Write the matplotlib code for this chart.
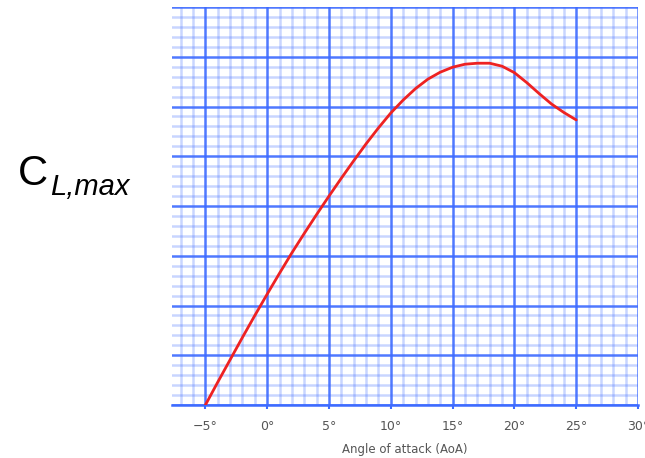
import matplotlib
matplotlib.use("Agg")
import matplotlib.pyplot as plt
from matplotlib.ticker import MultipleLocator, FuncFormatter

# angle of attack (deg) and lift coefficient
aoa = [-5, -4, -3, -2, -1, 0, 1, 2, 3, 4, 5, 6, 7, 8, 9, 10,
       11, 12, 13, 14, 15, 16, 17, 18, 19, 20, 21, 22, 23, 24, 25]
cl = [0.00, 0.46, 0.91, 1.36, 1.80, 2.23, 2.65, 3.06, 3.45, 3.83, 4.20,
      4.56, 4.91, 5.25, 5.57, 5.87, 6.13, 6.36, 6.55, 6.69, 6.79, 6.85,
      6.87, 6.87, 6.81, 6.68, 6.48, 6.26, 6.05, 5.88, 5.73]

x_range = (-7.7, 30)
y_range = (0, 8)

GRID_BLUE = "#3d6bff"

fig = plt.figure(figsize=(6.45, 4.58), dpi=100)
ax = fig.add_axes([0.2667, 0.1157, 0.7225, 0.869])

ax.set_xlim(*x_range)
ax.set_ylim(*y_range)
ax.xaxis.set_major_locator(MultipleLocator(5))
ax.xaxis.set_minor_locator(MultipleLocator(1))
ax.yaxis.set_major_locator(MultipleLocator(1))
ax.yaxis.set_minor_locator(MultipleLocator(0.2))
ax.xaxis.set_major_formatter(FuncFormatter(lambda v, _: f"{int(round(v))}°".replace("-", "\u2212")))

ax.grid(which="major", color=GRID_BLUE, linewidth=1.8, alpha=0.9)
ax.grid(which="minor", color=GRID_BLUE, linewidth=1.8, alpha=0.28)
ax.set_axisbelow(True)

for side in ["left", "top", "right"]:
    ax.spines[side].set_visible(False)
ax.spines["bottom"].set_color(GRID_BLUE)
ax.spines["bottom"].set_linewidth(1.8)

ax.tick_params(axis="x", which="major", color=GRID_BLUE, length=3, width=1.5,
               labelsize=9, labelcolor="#555555", pad=8)
ax.tick_params(axis="x", which="minor", length=0)
ax.tick_params(axis="y", which="both", length=0, labelleft=False)

ax.plot(aoa, cl, color="#ee2222", linewidth=2, solid_capstyle="round", zorder=3)

ax.set_xlabel("Angle of attack (AoA)", fontsize=8.5, color="#555555", labelpad=7)

fig.text(18 / 645, 1 - 185 / 458, "C", fontsize=30, family="Liberation Sans",
         ha="left", va="baseline")
fig.text(50 / 645, 1 - 195 / 458, "L,max", fontsize=21, family="Liberation Sans",
         style="italic", ha="left", va="baseline")

fig.savefig("out.png", dpi=100)
